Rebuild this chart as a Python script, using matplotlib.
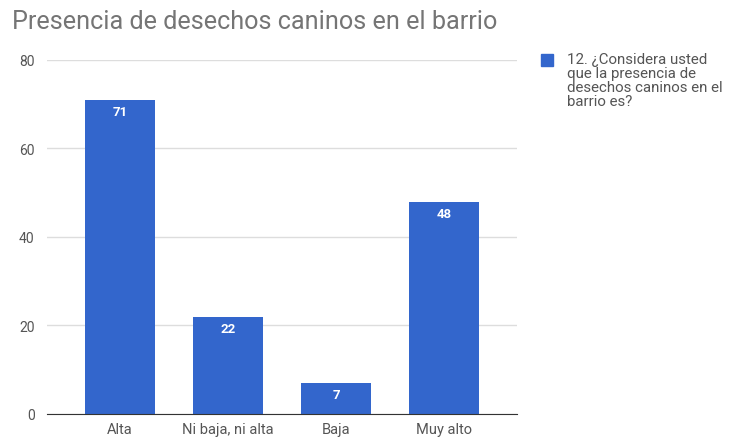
import matplotlib
matplotlib.use('Agg')
from matplotlib import pyplot as plt
from matplotlib.patches import Rectangle

plt.rcParams['font.family'] = ['Roboto', 'DejaVu Sans']

categorias = ['Alta', 'Ni baja, ni alta', 'Baja', 'Muy alto']
valores = [71, 22, 7, 48]
yticks = [0, 20, 40, 60, 80]
titulo = 'Presencia de desechos caninos en el barrio'
serie = '12. ¿Considera usted\nque la presencia de\ndesechos caninos en el\nbarrio es?'

azul = '#3366cc'

fig = plt.figure(figsize=(7.29, 4.39), dpi=100)
ax = fig.add_axes([0.0645, 0.0547, 0.6445, 0.8064])

x = list(range(len(categorias)))
bars = ax.bar(x, valores, width=0.65, color=azul, zorder=3)
for b, v in zip(bars, valores):
    ax.text(b.get_x() + b.get_width() / 2, v - 1.2, str(v), ha='center', va='top',
            color='white', fontsize=9.5, fontweight='bold', zorder=4)

ax.set_xlim(-0.676, 3.676)
ax.set_ylim(0, 80)
ax.set_yticks(yticks)
ax.set_xticks(x)
ax.set_xticklabels(categorias)
ax.tick_params(axis='both', length=0, labelsize=10.5, colors='#555555', pad=6)
ax.tick_params(axis='y', pad=9, labelsize=10)
ax.grid(axis='y', color='#dddddd', linewidth=1, zorder=0)
for s in ['top', 'right', 'left']:
    ax.spines[s].set_visible(False)
ax.spines['bottom'].set_color('#333333')
ax.spines['bottom'].set_zorder(5)

fig.text(12 / 729, 1 - 22 / 439, titulo, fontsize=18.2, color='#757575', va='center', ha='left')

fig.patches.append(Rectangle((541 / 729, 1 - 67 / 439), 12 / 729, 12 / 439,
                             transform=fig.transFigure, color=azul, figure=fig))
fig.text(567 / 729, 1 - 53 / 439, serie, fontsize=10.8, color='#555555', va='top', ha='left',
         linespacing=1.0)

fig.savefig('out.png', dpi=100)
